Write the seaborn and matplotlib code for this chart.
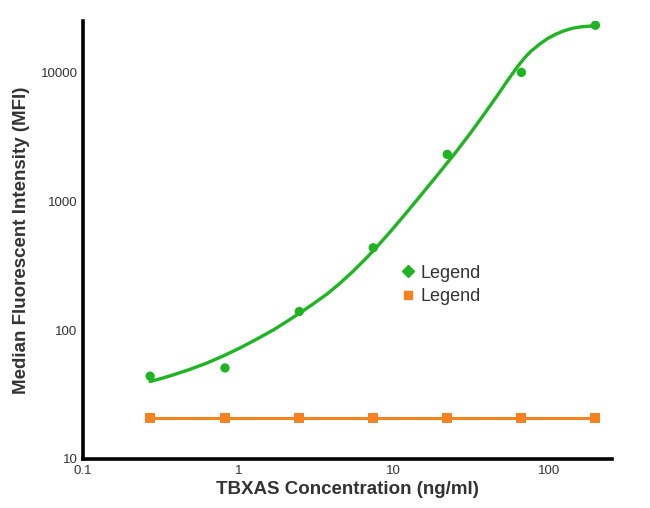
import numpy as np
import pandas as pd
import matplotlib
matplotlib.use("Agg")
import matplotlib.pyplot as plt
from matplotlib.lines import Line2D
from matplotlib.ticker import FixedLocator, FixedFormatter, NullLocator
import seaborn as sns

# Datos
conc = [0.27, 0.82, 2.47, 7.4, 22.2, 66.7, 200]
mfi_green = [44, 51, 140, 438, 2330, 10100, 23500]
mfi_orange = [21, 21, 21, 21, 21, 21, 21]

# Curva ajustada
fit_x = [0.27, 0.32, 0.38, 0.48, 0.63, 0.8, 1.03, 1.3, 1.69, 2.05, 2.51, 3.05,
         3.74, 4.5, 5.54, 6.6, 7.85, 9.5, 11.6, 15, 19.1, 25, 31.4, 38.5, 46.7,
         54, 62.8, 70, 76.5, 87, 98, 111, 125, 142, 161, 180, 200]
fit_y = [40, 42.3, 45, 49.4, 55.8, 63.2, 73.2, 84.8, 101, 117, 137, 161,
         192, 231, 291, 359, 448, 581, 771, 1120, 1600, 2390, 3425, 4810, 6690,
         8640, 11160, 13130, 14670, 16680, 18450, 20000, 21230, 22230, 22800,
         23070, 23280]

x_ticks = [0.1, 1, 10, 100]
x_labels = ["0.1", "1", "10", "100"]
y_ticks = [10, 100, 1000, 10000]
y_labels = ["10", "100", "1000", "10000"]

green = "#1fb421"
orange = "#f5821f"
text_col = "#333333"

sns.set_style("white")
plt.rcParams["font.family"] = ["Liberation Sans", "DejaVu Sans"]

df_pts = pd.DataFrame({"conc": conc, "green": mfi_green, "orange": mfi_orange})
df_fit = pd.DataFrame({"x": fit_x, "y": fit_y})

fig = plt.figure(figsize=(6.5, 5.08), dpi=100)
ax = fig.add_axes([0.128, 0.0965, 0.814, 0.862])

sns.lineplot(data=df_fit, x="x", y="y", color=green, linewidth=2.4, ax=ax,
             sort=False)
sns.scatterplot(data=df_pts, x="conc", y="green", color=green, s=45,
                edgecolor="none", ax=ax, zorder=3)
sns.lineplot(data=df_pts, x="conc", y="orange", color=orange, linewidth=2.2,
             marker="s", markersize=7, markeredgewidth=0, ax=ax)

ax.set_xscale("log")
ax.set_yscale("log")
ax.set_xlim(0.1, 257)
ax.set_ylim(10, 25300)

ax.xaxis.set_major_locator(FixedLocator(x_ticks))
ax.xaxis.set_major_formatter(FixedFormatter(x_labels))
ax.xaxis.set_minor_locator(NullLocator())
ax.yaxis.set_major_locator(FixedLocator(y_ticks))
ax.yaxis.set_major_formatter(FixedFormatter(y_labels))
ax.yaxis.set_minor_locator(NullLocator())

for side in ["top", "right"]:
    ax.spines[side].set_visible(False)
for side in ["left", "bottom"]:
    ax.spines[side].set_linewidth(2.6)
    ax.spines[side].set_color("black")

ax.tick_params(axis="both", which="major", length=3, width=1, color="black",
               labelsize=9.5, labelcolor=text_col, pad=1, direction="out")

ax.set_xlabel("TBXAS Concentration (ng/ml)", fontsize=13.5, fontweight="bold",
              color=text_col, labelpad=3)
ax.set_ylabel("Median Fluorescent Intensity (MFI)", fontsize=13.5,
              fontweight="bold", color=text_col, labelpad=8)

handles = [
    Line2D([], [], color=green, marker="D", linestyle="none", markersize=6),
    Line2D([], [], color=orange, marker="s", linestyle="none", markersize=6),
]
ax.legend(handles, ["Legend", "Legend"], frameon=False, fontsize=13,
          labelcolor=text_col, loc="center left", bbox_to_anchor=(0.563, 0.398),
          handletextpad=0.1, handlelength=1.2, labelspacing=0.35)

fig.savefig("out.png", dpi=100)
